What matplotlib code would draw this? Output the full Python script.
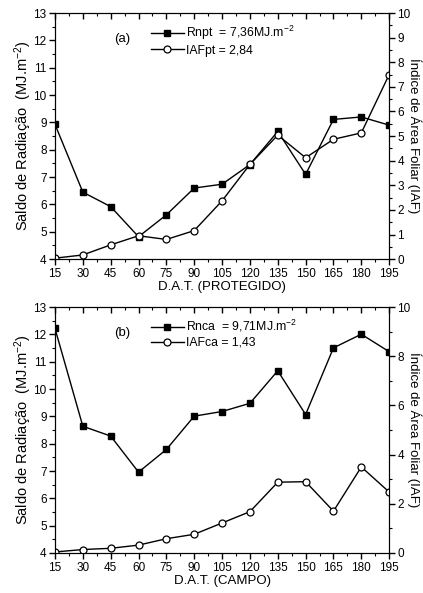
import matplotlib
matplotlib.use("Agg")
import matplotlib.pyplot as plt
from matplotlib.ticker import MultipleLocator

plt.rcParams['font.family'] = ['Liberation Sans', 'DejaVu Sans']
plt.rcParams['mathtext.default'] = 'regular'

# days after transplant
dat = [15, 30, 45, 60, 75, 90, 105, 120, 135, 150, 165, 180, 195]

# (a) protected
rn_pt = [8.93, 6.45, 5.92, 4.82, 5.62, 6.6, 6.74, 7.46, 8.67, 7.1, 9.11, 9.2, 8.9]
iaf_pt = [0.04, 0.17, 0.58, 0.95, 0.8, 1.16, 2.37, 3.85, 5.04, 4.12, 4.87, 5.13, 7.5]

# (b) field
rn_ca = [12.22, 8.64, 8.28, 6.96, 7.79, 9.01, 9.18, 9.48, 10.67, 9.07, 11.51, 12.01, 11.37]
iaf_ca = [0.04, 0.14, 0.19, 0.32, 0.58, 0.76, 1.22, 1.68, 2.88, 2.9, 1.7, 3.5, 2.48]

panels = [
    ("(a)", rn_pt, iaf_pt, "Rnpt  = 7,36MJ.m$^{-2}$", "IAFpt = 2,84", "D.A.T. (PROTEGIDO)", 1),
    ("(b)", rn_ca, iaf_ca, "Rnca  = 9,71MJ.m$^{-2}$", "IAFca = 1,43", "D.A.T. (CAMPO)", 2),
]

fig = plt.figure(figsize=(4.23, 5.93), dpi=100)
boxes = [[0.130, 0.563, 0.790, 0.415], [0.130, 0.0675, 0.790, 0.4145]]

for box, (tag, rn, iaf, lab1, lab2, xlab, rstep) in zip(boxes, panels):
    ax = fig.add_axes(box)
    ax2 = ax.twinx()

    l1, = ax.plot(dat, rn, color="black", lw=1, marker="s", ms=4.5,
                  markerfacecolor="black")
    l2, = ax2.plot(dat, iaf, color="black", lw=1, marker="o", ms=5,
                   markerfacecolor="white", markeredgewidth=0.9)

    ax.set_xlim(15, 195)
    ax.set_ylim(4, 13)
    ax2.set_ylim(0, 10)

    ax.xaxis.set_major_locator(MultipleLocator(15))
    ax.xaxis.set_minor_locator(MultipleLocator(7.5))
    ax.yaxis.set_major_locator(MultipleLocator(1))
    ax.yaxis.set_minor_locator(MultipleLocator(0.5))
    ax2.yaxis.set_major_locator(MultipleLocator(rstep))
    ax2.yaxis.set_minor_locator(MultipleLocator(rstep / 2))

    ax.tick_params(axis="x", which="both", direction="out", top=True, labelsize=8.5, pad=2.5)
    ax.tick_params(axis="y", which="both", direction="out", labelsize=8.5, pad=2)
    ax2.tick_params(axis="y", which="both", direction="out", labelsize=8.5, pad=2)
    ax.tick_params(which="major", length=4, width=1)
    ax.tick_params(which="minor", length=2.5, width=0.8)
    ax2.tick_params(which="major", length=4, width=1)
    ax2.tick_params(which="minor", length=2.5, width=0.8)
    # top ticks point inward
    for t in ax.xaxis.get_major_ticks() + ax.xaxis.get_minor_ticks():
        t.tick2line.set_marker(3)

    ax.set_xlabel(xlab, fontsize=9.5, labelpad=0.5)
    ax.set_ylabel("Saldo de Radiação  (MJ.m$^{-2}$)", fontsize=10.5, va="center")
    ax.yaxis.set_label_coords(-0.096, 0.5)
    ax2.set_ylabel("Índice de Área Foliar (IAF)", fontsize=9.5, rotation=270, va="center")
    ax2.yaxis.set_label_coords(1.076, 0.5)

    ax.text(0.2, 0.895, tag, transform=ax.transAxes, fontsize=9.5,
            ha="center", va="center")
    ax2.legend([l1, l2], [lab1, lab2], loc="upper left", bbox_to_anchor=(0.272, 0.975),
               frameon=False, fontsize=8.8, handlelength=2.7, handletextpad=0.15,
               labelspacing=0.2, borderaxespad=0)

fig.savefig("out.png", dpi=100)
